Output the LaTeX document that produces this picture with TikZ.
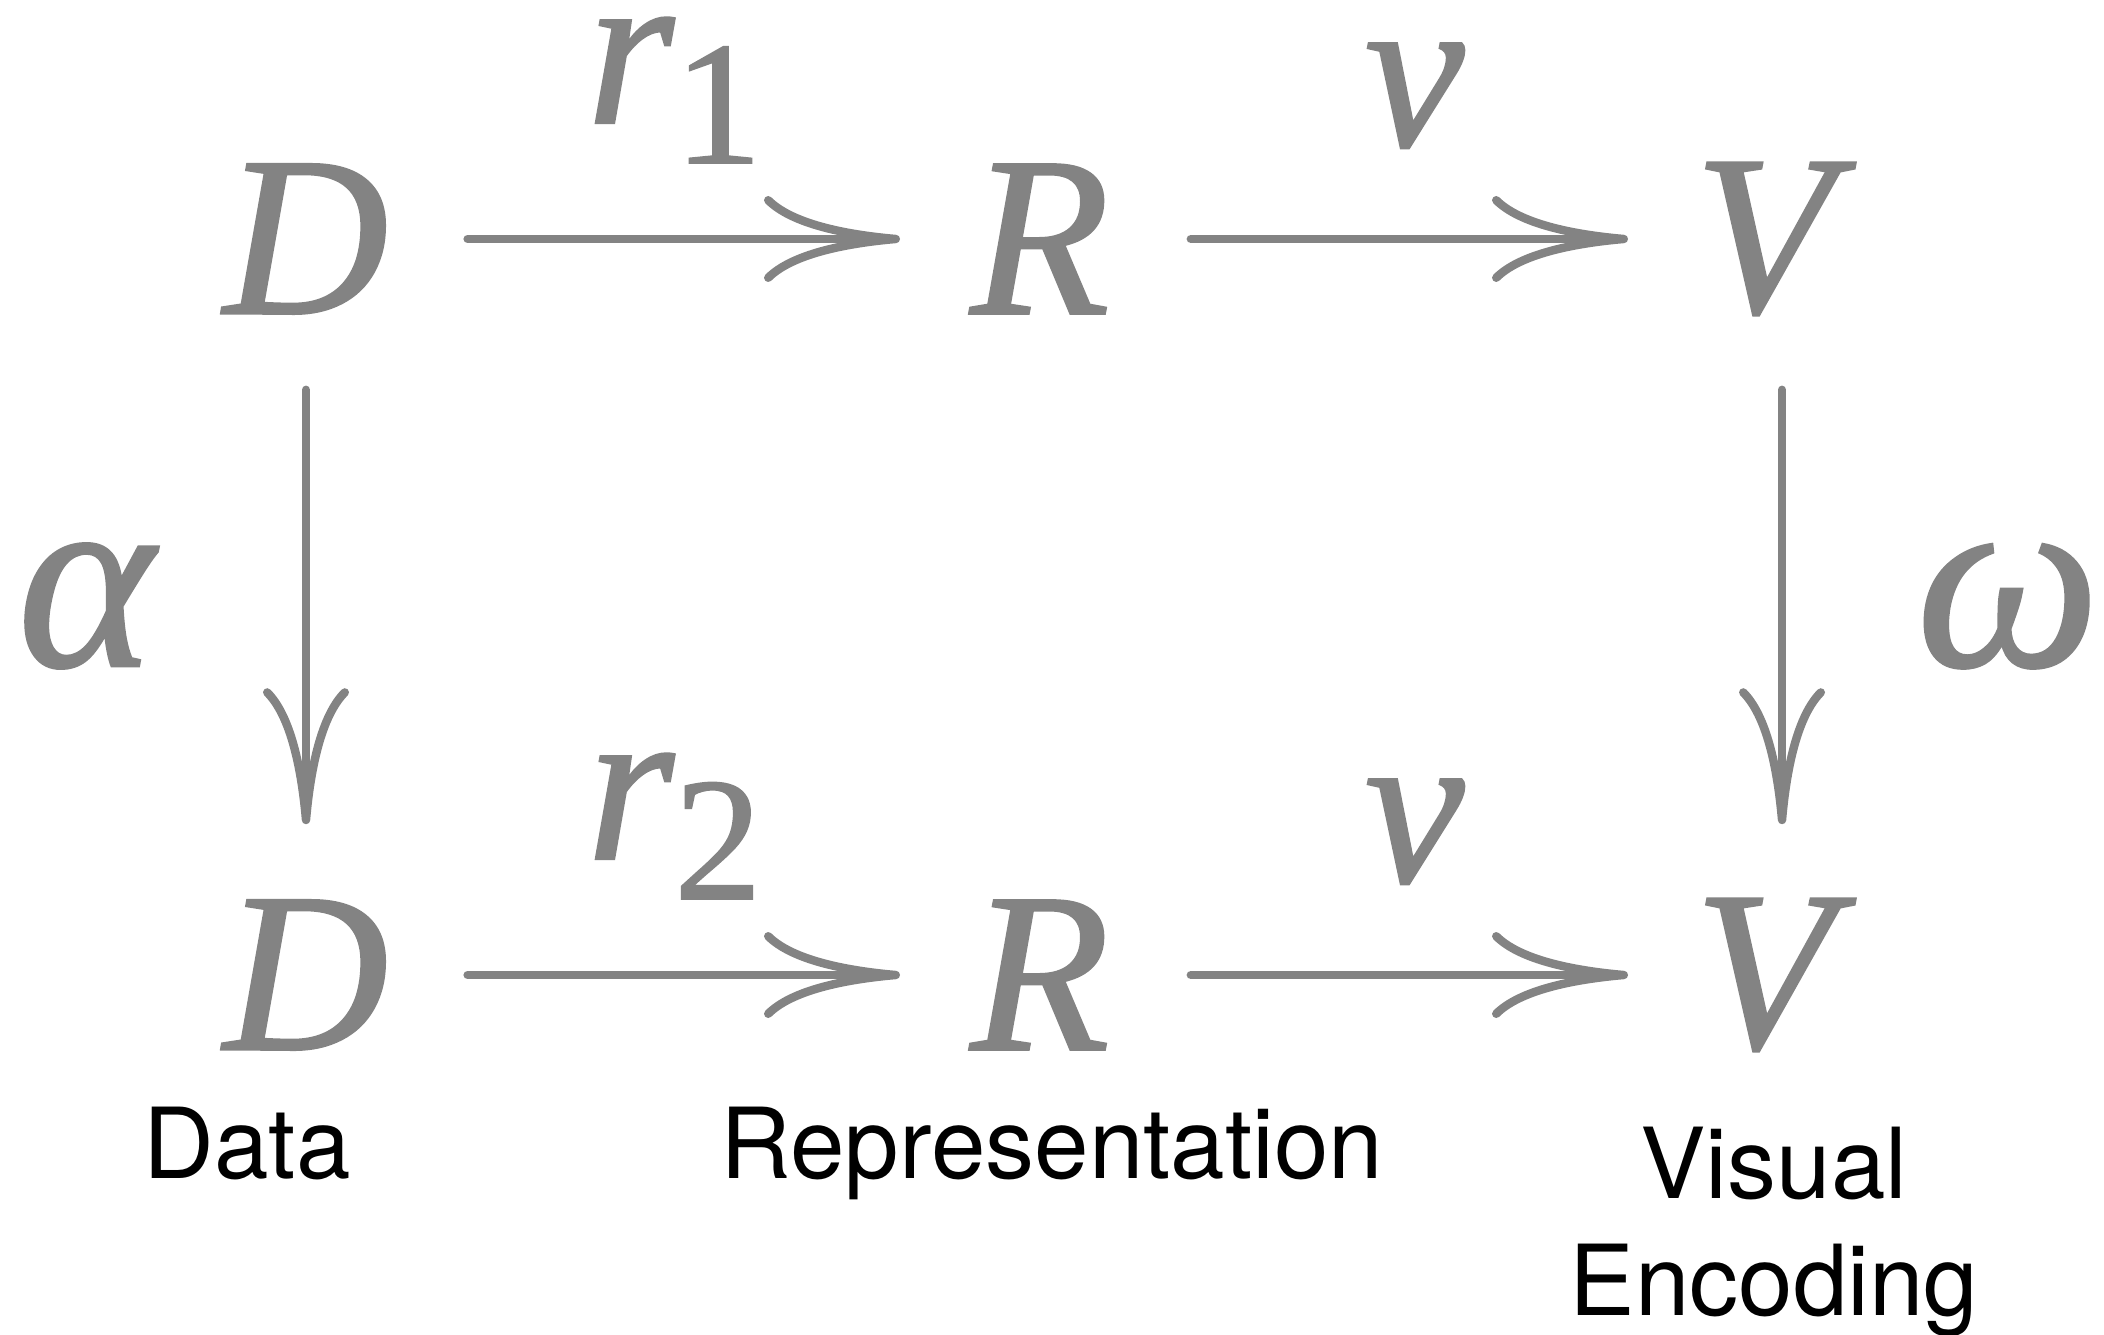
\documentclass[tikz,border=0pt]{standalone}
\usepackage{fontspec}
\setmainfont{TeX Gyre Heros}
\newfontfamily\symfont[FakeBold=1]{Liberation Serif}
\usetikzlibrary{arrows.meta}
\definecolor{symgray}{RGB}{131,131,131}
\newcommand{\mapsub}[1]{\lower10pt\hbox{\upshape\fontsize{44}{44}\selectfont #1}}
\tikzset{
  obj/.style={text=symgray, font=\symfont\itshape\fontsize{57}{57}\selectfont, minimum width=75pt, minimum height=75pt, inner sep=0pt},
  maplabel/.style={text=symgray, font=\symfont\itshape\fontsize{56}{56}\selectfont, inner sep=0pt, anchor=base west},
  greek/.style={text=symgray, font=\symfont\itshape\fontsize{65}{65}\selectfont, inner sep=0pt, anchor=base},
  caption/.style={font=\fontsize{24.5}{24.5}\selectfont, inner sep=0pt, anchor=base},
  maparrow/.style={draw=symgray, line width=2.1pt, line cap=round, -{Computer Modern Rightarrow[length=34pt, width=21.5pt, line width=2.1pt]}}
}
\begin{document}
\begin{tikzpicture}[x=0.25pt,y=-0.25pt]
\useasboundingbox (0,0) rectangle (2104,1335);
\node[obj] (D1) at (306,239) {D};
\node[obj] (R1) at (1040,239) {R};
\node[obj] (V1) at (1764,239) {V};
\node[obj] (D2) at (306,975) {D};
\node[obj] (R2) at (1040,975) {R};
\node[obj] (V2) at (1764,975) {V};
\draw[maparrow, shorten <=2.7pt, shorten >=-2.7pt] (D1) -- (R1);
\draw[maparrow, shorten >=-3.7pt] (R1) -- (V1);
\draw[maparrow, shorten <=2.7pt, shorten >=-2.7pt] (D2) -- (R2);
\draw[maparrow, shorten >=-3.7pt] (R2) -- (V2);
\draw[maparrow] (D1) -- (D2);
\draw[maparrow] ([xshift=4.5pt]V1.south) -- ([xshift=4.5pt]V2.north);
\node[maplabel] (r1) at (586,123) {r\mapsub{1}};
\node[maplabel] (r2) at (586,859) {r\mapsub{2}};
\node[maplabel] (v1) at (1364,146) {v};
\node[maplabel] (v2) at (1364,882) {v};
\node[greek] (alpha) at (86,666) {α};
\node[greek] (omega) at (2008,666) {ω};
\node[caption] (data) at (247,1178) {Data};
\node[caption] (repr) at (1052,1178) {Representation};
\node[caption] (visual) at (1774,1198) {Visual};
\node[caption] (encoding) at (1774,1315) {Encoding};
\end{tikzpicture}
\end{document}
